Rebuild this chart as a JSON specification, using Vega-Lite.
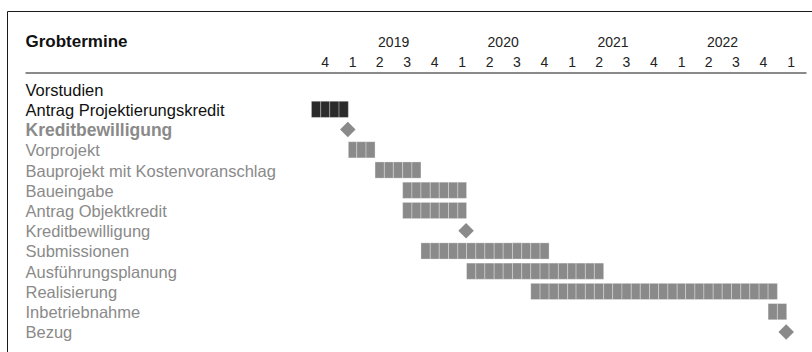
{
  "$schema": "https://vega.github.io/schema/vega-lite/v6.json",
  "width": 805,
  "height": 341,
  "autosize": "none",
  "padding": {"left": 7, "top": 11, "right": 0, "bottom": 0},
  "background": "white",
  "config": {
    "font": "Liberation Sans",
    "view": {"stroke": "#1a1a1a", "strokeWidth": 1, "strokeDash": [805, 1146, 341, 0]},
    "axis": {"grid": false, "ticks": false, "tickSize": 0}
  },
  "datasets": {
    "cells": [
      {"task": "02 Antrag Projektierungskredit", "month": "2018-10-01"},
      {"task": "02 Antrag Projektierungskredit", "month": "2018-11-01"},
      {"task": "02 Antrag Projektierungskredit", "month": "2018-12-01"},
      {"task": "02 Antrag Projektierungskredit", "month": "2019-01-01"},
      {"task": "04 Vorprojekt", "month": "2019-02-01"},
      {"task": "04 Vorprojekt", "month": "2019-03-01"},
      {"task": "04 Vorprojekt", "month": "2019-04-01"},
      {"task": "05 Bauprojekt mit Kostenvoranschlag", "month": "2019-05-01"},
      {"task": "05 Bauprojekt mit Kostenvoranschlag", "month": "2019-06-01"},
      {"task": "05 Bauprojekt mit Kostenvoranschlag", "month": "2019-07-01"},
      {"task": "05 Bauprojekt mit Kostenvoranschlag", "month": "2019-08-01"},
      {"task": "05 Bauprojekt mit Kostenvoranschlag", "month": "2019-09-01"},
      {"task": "06 Baueingabe", "month": "2019-08-01"},
      {"task": "06 Baueingabe", "month": "2019-09-01"},
      {"task": "06 Baueingabe", "month": "2019-10-01"},
      {"task": "06 Baueingabe", "month": "2019-11-01"},
      {"task": "06 Baueingabe", "month": "2019-12-01"},
      {"task": "06 Baueingabe", "month": "2020-01-01"},
      {"task": "06 Baueingabe", "month": "2020-02-01"},
      {"task": "07 Antrag Objektkredit", "month": "2019-08-01"},
      {"task": "07 Antrag Objektkredit", "month": "2019-09-01"},
      {"task": "07 Antrag Objektkredit", "month": "2019-10-01"},
      {"task": "07 Antrag Objektkredit", "month": "2019-11-01"},
      {"task": "07 Antrag Objektkredit", "month": "2019-12-01"},
      {"task": "07 Antrag Objektkredit", "month": "2020-01-01"},
      {"task": "07 Antrag Objektkredit", "month": "2020-02-01"},
      {"task": "09 Submissionen", "month": "2019-10-01"},
      {"task": "09 Submissionen", "month": "2019-11-01"},
      {"task": "09 Submissionen", "month": "2019-12-01"},
      {"task": "09 Submissionen", "month": "2020-01-01"},
      {"task": "09 Submissionen", "month": "2020-02-01"},
      {"task": "09 Submissionen", "month": "2020-03-01"},
      {"task": "09 Submissionen", "month": "2020-04-01"},
      {"task": "09 Submissionen", "month": "2020-05-01"},
      {"task": "09 Submissionen", "month": "2020-06-01"},
      {"task": "09 Submissionen", "month": "2020-07-01"},
      {"task": "09 Submissionen", "month": "2020-08-01"},
      {"task": "09 Submissionen", "month": "2020-09-01"},
      {"task": "09 Submissionen", "month": "2020-10-01"},
      {"task": "09 Submissionen", "month": "2020-11-01"},
      {"task": "10 Ausführungsplanung", "month": "2020-03-01"},
      {"task": "10 Ausführungsplanung", "month": "2020-04-01"},
      {"task": "10 Ausführungsplanung", "month": "2020-05-01"},
      {"task": "10 Ausführungsplanung", "month": "2020-06-01"},
      {"task": "10 Ausführungsplanung", "month": "2020-07-01"},
      {"task": "10 Ausführungsplanung", "month": "2020-08-01"},
      {"task": "10 Ausführungsplanung", "month": "2020-09-01"},
      {"task": "10 Ausführungsplanung", "month": "2020-10-01"},
      {"task": "10 Ausführungsplanung", "month": "2020-11-01"},
      {"task": "10 Ausführungsplanung", "month": "2020-12-01"},
      {"task": "10 Ausführungsplanung", "month": "2021-01-01"},
      {"task": "10 Ausführungsplanung", "month": "2021-02-01"},
      {"task": "10 Ausführungsplanung", "month": "2021-03-01"},
      {"task": "10 Ausführungsplanung", "month": "2021-04-01"},
      {"task": "10 Ausführungsplanung", "month": "2021-05-01"},
      {"task": "11 Realisierung", "month": "2020-10-01"},
      {"task": "11 Realisierung", "month": "2020-11-01"},
      {"task": "11 Realisierung", "month": "2020-12-01"},
      {"task": "11 Realisierung", "month": "2021-01-01"},
      {"task": "11 Realisierung", "month": "2021-02-01"},
      {"task": "11 Realisierung", "month": "2021-03-01"},
      {"task": "11 Realisierung", "month": "2021-04-01"},
      {"task": "11 Realisierung", "month": "2021-05-01"},
      {"task": "11 Realisierung", "month": "2021-06-01"},
      {"task": "11 Realisierung", "month": "2021-07-01"},
      {"task": "11 Realisierung", "month": "2021-08-01"},
      {"task": "11 Realisierung", "month": "2021-09-01"},
      {"task": "11 Realisierung", "month": "2021-10-01"},
      {"task": "11 Realisierung", "month": "2021-11-01"},
      {"task": "11 Realisierung", "month": "2021-12-01"},
      {"task": "11 Realisierung", "month": "2022-01-01"},
      {"task": "11 Realisierung", "month": "2022-02-01"},
      {"task": "11 Realisierung", "month": "2022-03-01"},
      {"task": "11 Realisierung", "month": "2022-04-01"},
      {"task": "11 Realisierung", "month": "2022-05-01"},
      {"task": "11 Realisierung", "month": "2022-06-01"},
      {"task": "11 Realisierung", "month": "2022-07-01"},
      {"task": "11 Realisierung", "month": "2022-08-01"},
      {"task": "11 Realisierung", "month": "2022-09-01"},
      {"task": "11 Realisierung", "month": "2022-10-01"},
      {"task": "11 Realisierung", "month": "2022-11-01"},
      {"task": "11 Realisierung", "month": "2022-12-01"},
      {"task": "12 Inbetriebnahme", "month": "2022-12-01"},
      {"task": "12 Inbetriebnahme", "month": "2023-01-01"}
    ],
    "milestones": [
      {"task": "03 Kreditbewilligung", "date": "2019-02-01"},
      {"task": "08 Kreditbewilligung", "date": "2020-03-01"},
      {"task": "13 Bezug", "date": "2023-02-01"}
    ]
  },
  "encoding": {
    "y": {
      "field": "task",
      "type": "nominal",
      "scale": {
        "domain": ["01 Vorstudien", "02 Antrag Projektierungskredit", "03 Kreditbewilligung", "04 Vorprojekt", "05 Bauprojekt mit Kostenvoranschlag", "06 Baueingabe", "07 Antrag Objektkredit", "08 Kreditbewilligung", "09 Submissionen", "10 Ausführungsplanung", "11 Realisierung", "12 Inbetriebnahme", "13 Bezug"],
        "range": [68, 331],
        "paddingInner": 0.2,
        "paddingOuter": 0.1
      },
      "axis": {
        "orient": "left",
        "title": "Grobtermine",
        "titleAngle": 0,
        "titleAlign": "left",
        "titleBaseline": "alphabetic",
        "titleX": 18,
        "titleY": 35.7,
        "titleFontSize": 17,
        "titleFontWeight": "bold",
        "titleColor": "#111111",
        "domain": false,
        "ticks": false,
        "labelAlign": "left",
        "labelPadding": -18,
        "labelOffset": 1.5,
        "labelLimit": 400,
        "labelExpr": "substring(datum.label, 3)",
        "labelFontSize": {"condition": {"test": "datum.value == '03 Kreditbewilligung'", "value": 17.5}, "value": 16.5},
        "labelFontWeight": {"condition": {"test": "datum.value == '03 Kreditbewilligung'", "value": "bold"}, "value": "normal"},
        "labelColor": {"condition": {"test": "datum.value == '01 Vorstudien' || datum.value == '02 Antrag Projektierungskredit'", "value": "#111111"}, "value": "#8a8a8a"}
      }
    }
  },
  "layer": [
    {
      "data": {"name": "cells"},
      "mark": {"type": "rect", "stroke": "white", "strokeOpacity": 0.3, "strokeWidth": 1},
      "encoding": {
        "x": {
          "field": "month",
          "type": "temporal",
          "timeUnit": "utcyearmonth",
          "scale": {"type": "utc", "domain": [{"year": 2016, "month": 2, "date": 21, "utc": true}, {"year": 2023, "month": 4, "date": 8, "utc": true}], "range": [18, 799]},
          "axis": {
            "orient": "top",
            "offset": -61.5,
            "title": null,
            "tickCount": {"interval": "month", "step": 3},
            "labelExpr": "(datum.value < utc(2018, 9, 1) || datum.value >= utc(2023, 3, 1)) ? '' : '' + (floor(utcmonth(datum.value) / 3) + 1)",
            "labelOffset": 13.7,
            "labelPadding": 6.5,
            "labelBaseline": "alphabetic",
            "labelFontSize": 14,
            "labelColor": "#222222",
            "labelOverlap": false,
            "labelFlush": false,
            "labelBound": false,
            "domain": true,
            "domainColor": "#8a8a8a",
            "domainWidth": 2,
            "ticks": false,
            "grid": false
          }
        },
        "fill": {"condition": {"test": "datum.task == '02 Antrag Projektierungskredit'", "value": "#2b2b2b"}, "value": "#8a8a8a"}
      }
    },
    {
      "data": {"name": "milestones"},
      "mark": {"type": "point", "shape": "diamond", "filled": true, "size": 240, "color": "#8a8a8a", "opacity": 1},
      "encoding": {
        "x": {
          "field": "date",
          "type": "temporal",
          "scale": {"type": "utc", "domain": [{"year": 2016, "month": 2, "date": 21, "utc": true}, {"year": 2023, "month": 4, "date": 8, "utc": true}], "range": [18, 799]},
          "axis": {
            "orient": "top",
            "offset": -61.5,
            "title": null,
            "tickCount": {"interval": "year", "step": 1},
            "labelExpr": "(utcyear(datum.value) >= 2019 && utcyear(datum.value) <= 2022) ? '' + utcyear(datum.value) : ''",
            "labelOffset": 54.6,
            "labelPadding": 25.8,
            "labelBaseline": "alphabetic",
            "labelFontSize": 14,
            "labelColor": "#222222",
            "labelOverlap": false,
            "labelFlush": false,
            "labelBound": false,
            "domain": false,
            "ticks": false,
            "grid": false
          }
        }
      }
    }
  ],
  "resolve": {"axis": {"x": "independent"}}
}
